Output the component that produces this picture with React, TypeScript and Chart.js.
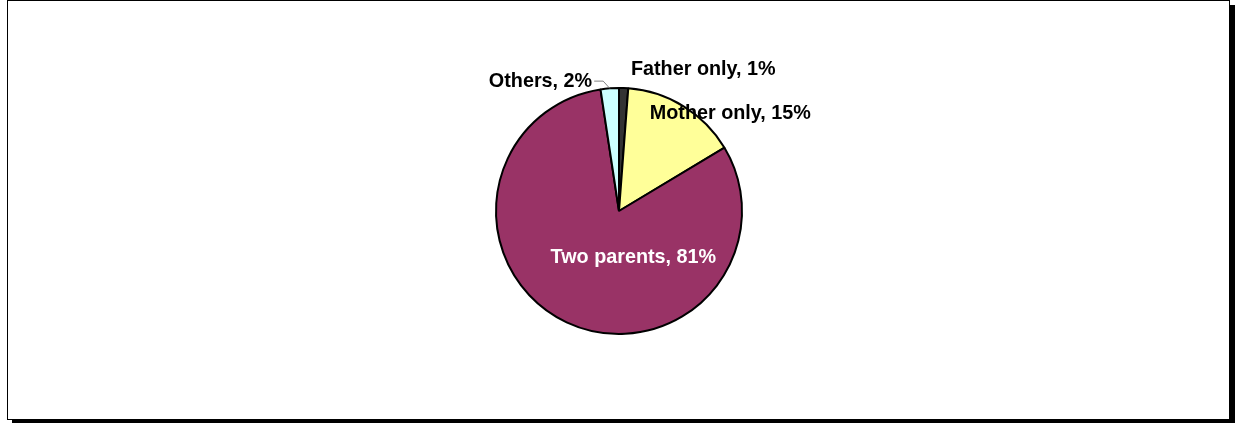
import React, { useEffect, useRef } from "react";
import { Chart, registerables } from "chart.js";

Chart.register(...registerables);

const categories = ["Father only", "Mother only", "Two parents", "Others"];
const values = [1.2, 15.2, 81.2, 2.4];
const labelTexts = ["Father only, 1%", "Mother only, 15%", "Two parents, 81%", "Others, 2%"];
const colors = ["#333333", "#FFFF99", "#993366", "#CCFFFF"];

// label anchors relative to pie centre, in units of radius
const labelLayout = [
  { dx: 0.097, dy: -1.153, align: "left", color: "#000000" },
  { dx: 0.25, dy: -0.79, align: "left", color: "#000000" },
  { dx: 0.117, dy: 0.379, align: "center", color: "#FFFFFF" },
  { dx: -0.218, dy: -1.056, align: "right", color: "#000000", leader: true },
];

const labelPlugin = {
  id: "pieLabels",
  afterDatasetsDraw(chart: any) {
    const ctx = chart.ctx;
    const meta = chart.getDatasetMeta(0);
    ctx.save();
    ctx.font = "bold 19.8px 'Liberation Sans', Arial, sans-serif";
    ctx.textBaseline = "middle";
    meta.data.forEach((arc: any, i: number) => {
      const { x, y, outerRadius, startAngle, endAngle } = arc.getProps(
        ["x", "y", "outerRadius", "startAngle", "endAngle"],
        true
      );
      const L = labelLayout[i];
      const tx = x + L.dx * outerRadius;
      const ty = y + L.dy * outerRadius;
      ctx.fillStyle = L.color;
      ctx.textAlign = L.align;
      ctx.fillText(labelTexts[i], tx, ty);
      if (L.leader) {
        const mid = (startAngle + endAngle) / 2;
        const ex = x + Math.cos(mid) * outerRadius;
        const ey = y + Math.sin(mid) * outerRadius;
        ctx.strokeStyle = "#808080";
        ctx.lineWidth = 1;
        ctx.beginPath();
        ctx.moveTo(tx + 2, ty);
        ctx.lineTo(tx + 11, ty);
        ctx.lineTo(ex, ey);
        ctx.stroke();
      }
    });
    ctx.restore();
  },
};

export default function App() {
  const ref = useRef<HTMLCanvasElement>(null);
  useEffect(() => {
    if (!ref.current) return;
    const chart = new Chart(ref.current, {
      type: "pie",
      data: {
        labels: categories,
        datasets: [
          {
            data: values,
            backgroundColor: colors,
            borderColor: "#000000",
            borderWidth: 2,
          },
        ],
      },
      options: {
        animation: false,
        responsive: false,
        layout: { padding: { left: 495, right: 492, top: 87, bottom: 88 } },
        plugins: {
          legend: { display: false },
          tooltip: { enabled: false },
        },
      },
      plugins: [labelPlugin],
    });
    return () => chart.destroy();
  }, []);

  return (
    <div style={{ position: "absolute", left: 0, top: 0, width: 1235, height: 423 }}>
      <div
        style={{
          position: "absolute",
          left: 7,
          top: 0,
          width: 1221,
          height: 418,
          border: "1px solid #000",
          background: "#fff",
          boxShadow: "5px 5px 0 #000",
        }}
      />
      <canvas
        ref={ref}
        width={1235}
        height={423}
        style={{ position: "absolute", left: 0, top: 0, width: 1235, height: 423 }}
      />
    </div>
  );
}
